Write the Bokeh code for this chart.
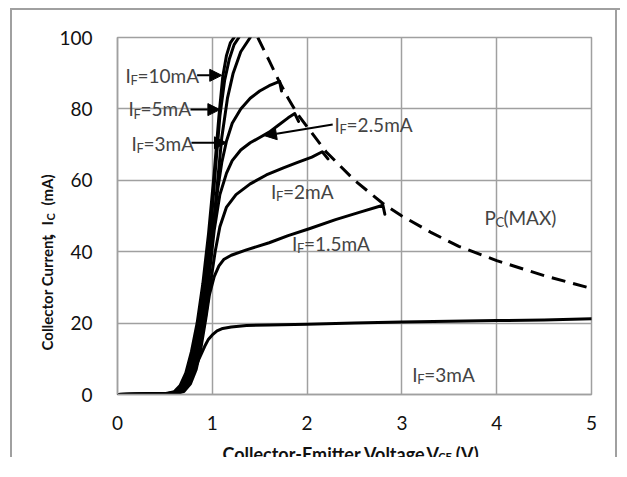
import math
from bokeh.plotting import figure
from bokeh.models import Range1d, FixedTicker, Label, Arrow, NormalHead
from bokeh.layouts import row, column
from bokeh.core.properties import value
from bokeh.embed import file_html
from bokeh.resources import INLINE

# ---- data ----
x_ticks = [0, 1, 2, 3, 4, 5]
y_ticks = [0, 20, 40, 60, 80, 100]

c10_x = [0, 0.5, 0.6, 0.66, 0.72, 0.78, 0.84, 0.9, 0.96, 1.02, 1.07, 1.11, 1.15, 1.19, 1.23]
c10_y = [0, 0.2, 0.8, 2.5, 6, 12, 20, 31, 45, 62, 78, 89, 95, 98.5, 100]

c5_x = [0, 0.52, 0.62, 0.68, 0.74, 0.8, 0.86, 0.92, 0.98, 1.03, 1.08, 1.13, 1.18, 1.23, 1.28]
c5_y = [0, 0.2, 0.8, 2.5, 6, 12, 20, 31, 45, 62, 78, 88, 94, 98, 100]

c4_x = [0, 0.55, 0.64, 0.7, 0.76, 0.82, 0.88, 0.94, 1.0, 1.05, 1.1, 1.16, 1.22, 1.3, 1.4]
c4_y = [0, 0.2, 0.8, 2.5, 6, 12, 20, 31, 44, 58, 72, 83, 90, 96, 100]

c3_x = [0, 0.55, 0.65, 0.72, 0.78, 0.84, 0.9, 0.96, 1.01, 1.06, 1.1, 1.15, 1.21, 1.3, 1.4, 1.5, 1.6, 1.71, 1.73]
c3_y = [0, 0.2, 0.8, 3, 7, 13, 22, 34, 47, 58, 65, 71, 76, 80, 83, 85, 86.5, 87.7, 85]

c25_x = [0, 0.57, 0.67, 0.74, 0.8, 0.86, 0.92, 0.97, 1.02, 1.08, 1.15, 1.21, 1.3, 1.4, 1.5, 1.6, 1.7, 1.8, 1.87, 1.91]
c25_y = [0, 0.2, 0.8, 3, 7, 13, 23, 34, 46, 56, 62, 65.5, 68.5, 70.5, 72, 73.5, 75.5, 77.5, 78.7, 76.5]

c2_x = [0, 0.58, 0.68, 0.75, 0.81, 0.87, 0.93, 0.98, 1.03, 1.08, 1.15, 1.25, 1.4, 1.57, 1.75, 1.9, 2.05, 2.16, 2.22]
c2_y = [0, 0.2, 0.8, 3, 7, 13, 22, 31, 40, 47, 52.5, 56, 59, 61.5, 63.5, 65, 66.5, 68, 66]

c15_x = [0, 0.6, 0.7, 0.77, 0.83, 0.88, 0.93, 0.97, 1.02, 1.07, 1.12, 1.2, 1.36, 1.6, 1.8, 2.03, 2.3, 2.55, 2.8, 2.82]
c15_y = [0, 0.2, 0.8, 3, 7, 13, 21, 28, 33, 36, 37.8, 39, 40.5, 42.5, 44.5, 46.5, 49, 51, 53, 50.5]

c1_x = [0, 0.6, 0.68, 0.74, 0.8, 0.86, 0.92, 0.96, 1.0, 1.05, 1.11, 1.2, 1.36, 1.6, 2.0, 2.5, 3.0, 3.5, 4.0, 4.5, 5.0]
c1_y = [0, 0.2, 1, 3, 6, 10, 13.5, 15.5, 16.7, 17.8, 18.5, 18.9, 19.3, 19.5, 19.7, 20.0, 20.3, 20.5, 20.7, 20.9, 21.2]

pmax_x = [1.48, 1.6, 1.7, 1.8, 1.9, 2.0, 2.2, 2.5, 2.8, 3.0, 3.3, 3.6, 4.0, 4.5, 5.0]
pmax_y = [100, 93.5, 88, 83, 78.5, 75, 68, 60, 53.5, 50, 45.5, 41.5, 37.5, 33.3, 29.7]

curves = [(c10_x, c10_y), (c5_x, c5_y), (c4_x, c4_y), (c3_x, c3_y),
          (c25_x, c25_y), (c2_x, c2_y), (c15_x, c15_y), (c1_x, c1_y)]

# annotation labels: (x, y, sub, rest)
curve_labels = [
    (0.084, 89.4, "F", "=10mA"),
    (0.116, 80.0, "F", "=5mA"),
    (0.148, 70.3, "F", "=3mA"),
    (2.29, 75.6, "F", "=2.5mA"),
    (1.62, 56.9, "F", "=2mA"),
    (1.84, 42.3, "F", "=1.5mA"),
    (3.11, 5.6, "F", "=3mA"),
]
# arrows: (x_start, y_start, x_end, y_end)
arrows = [
    (0.84, 89.4, 1.10, 89.4),
    (0.77, 79.8, 1.08, 79.8),
    (0.78, 70.5, 1.15, 70.5),
    (2.27, 75.6, 1.55, 72.5),
]

x_title = ["Collector-Emitter Voltage", "，", "V", "CE", "(V)"]
y_title = ["Collector Current", "，", "I", "C", "(mA)"]

FONT = "Lato"
CJK = "Noto Sans CJK SC"
GRID = "#a0a0a0"
GRAD = "linear-gradient(#a0a0a0,#a0a0a0)"

# ---- layout sizes (px) ----
LW, MW = 56, 561
TOP_B, FRAME_H, BOT_B = 37, 357, 38
XT_H = 25
H = TOP_B + FRAME_H + BOT_B + XT_H   # 457

def blank_fig(w, h):
    f = figure(width=w, height=h, x_range=Range1d(0, w), y_range=Range1d(0, h),
               min_border=0, output_backend="svg", toolbar_location=None)
    f.axis.visible = False
    f.grid.visible = False
    f.outline_line_color = None
    f.border_fill_color = None
    f.background_fill_color = None
    return f

def bg(positions, sizes):
    n = len(positions)
    return {
        "background-color": "white",
        "background-image": ", ".join([GRAD] * n),
        "background-position": ", ".join(positions),
        "background-size": ", ".join(sizes),
        "background-repeat": "no-repeat",
    }

# ---- main plot ----
p = figure(width=MW, height=TOP_B + FRAME_H + BOT_B,
           frame_width=474, frame_height=FRAME_H,
           min_border_left=58, min_border_right=MW - 58 - 474,
           min_border_top=TOP_B, min_border_bottom=BOT_B,
           x_range=Range1d(0, 5), y_range=Range1d(0, 100),
           output_backend="svg", toolbar_location=None)
p.border_fill_color = None
p.background_fill_color = "white"
p.styles = bg(["0px 8px", f"{MW - 2}px 8px"], ["100% 2px", "2px 100%"])
p.outline_line_color = GRID
p.outline_line_width = 1.5
for ax in (p.xaxis, p.yaxis):
    ax.axis_line_color = GRID
    ax.axis_line_width = 1.5
    ax.major_tick_line_color = None
    ax.minor_tick_line_color = None
    ax.major_label_text_font = FONT
    ax.major_label_text_font_size = "19px"
    ax.major_label_text_color = "#111111"
p.xaxis.ticker = FixedTicker(ticks=x_ticks)
p.yaxis.ticker = FixedTicker(ticks=y_ticks)
p.xaxis.major_label_standoff = 15
p.yaxis.major_label_standoff = 19
p.xgrid.grid_line_color = GRID
p.ygrid.grid_line_color = GRID
p.xgrid.grid_line_width = 1.5
p.ygrid.grid_line_width = 1.5

for cx, cy in curves:
    p.line(cx, cy, line_color="black", line_width=3, line_join="round", line_cap="round")

p.line(pmax_x, pmax_y, line_color="black", line_width=3, line_dash="14 8")

for xs, ys, xe, ye in arrows:
    p.add_layout(Arrow(x_start=xs, y_start=ys, x_end=xe, y_end=ye, line_width=2,
                       line_color="black",
                       end=NormalHead(size=12, fill_color="black", line_color="black")))

def sub_text(x, y, main, sub, rest, size, sub_size, main_w, sub_w, dy=1.3):
    kw = dict(text_font=FONT, text_baseline="middle", text_align="left")
    p.add_layout(Label(x=x, y=y, text=main, text_font_size=f"{size}px", **kw))
    p.add_layout(Label(x=x, y=y - dy, text=sub, x_offset=main_w,
                       text_font_size=f"{sub_size}px", **kw))
    p.add_layout(Label(x=x, y=y, text=rest, x_offset=main_w + sub_w,
                       text_font_size=f"{size}px", **kw))

for lx, ly, s, r in curve_labels:
    sub_text(lx, ly, "I", s, r, 19, 13, 5, 7)

sub_text(3.87, 49.6, "P", "C", "(MAX)", 19, 13, 11, 8)

tkw = dict(text_font_style="bold", text_align="left", text_color="#111111")

# ---- x-axis title strip ----
xf = blank_fig(MW, XT_H)
xf.styles = bg([f"{MW - 2}px 0px"], ["2px 100%"])
ty = 4
xb = dict(text_baseline="alphabetic", **tkw)
xf.text(x=[125], y=[ty], text=[x_title[0]], text_font=value(FONT), text_font_size="18px", **xb)
xf.text(x=[333], y=[ty], text=[x_title[1]], text_font=value(CJK), text_font_size="18px", **xb)
xf.text(x=[368], y=[ty], text=[x_title[2]], text_font=value(FONT), text_font_size="18px", **xb)
xf.text(x=[382], y=[ty - 3], text=[x_title[3]], text_font=value(FONT), text_font_size="11px", **xb)
xf.text(x=[403], y=[ty], text=[x_title[4]], text_font=value(FONT), text_font_size="18px", **xb)

# ---- y-axis title strip (rotated) ----
yf = blank_fig(LW, H)
yf.styles = bg(["10px 8px", "10px 8px"], ["2px 100%", "100% 2px"])
ang = math.pi / 2
tx = 46
yb = dict(angle=ang, text_baseline="middle", **tkw)
yf.text(x=[tx], y=[107], text=[y_title[0]], text_font=value(FONT), text_font_size="15px", **yb)
yf.text(x=[tx], y=[217], text=[y_title[1]], text_font=value(CJK), text_font_size="15px", **yb)
yf.text(x=[tx], y=[232], text=[y_title[2]], text_font=value(FONT), text_font_size="15px", **yb)
yf.text(x=[tx + 4], y=[237], text=[y_title[3]], text_font=value(FONT), text_font_size="11px", **yb)
yf.text(x=[tx], y=[252], text=[y_title[4]], text_font=value(FONT), text_font_size="15px", **yb)

layout = row(yf, column(p, xf, spacing=0), spacing=0)

open("out.html", "w").write(file_html(layout, INLINE))
